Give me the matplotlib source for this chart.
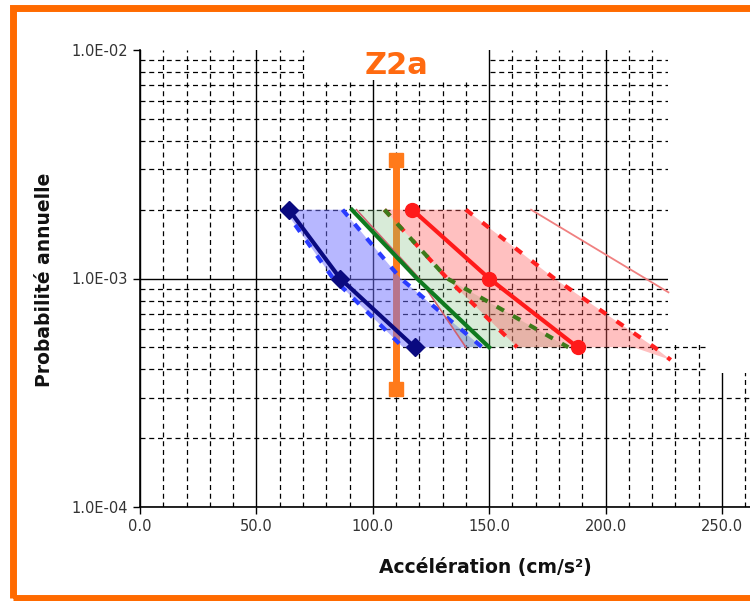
import matplotlib
matplotlib.use('Agg')
import matplotlib.pyplot as plt
from matplotlib.patches import Rectangle, Polygon
from matplotlib.ticker import FixedLocator, MultipleLocator, LogLocator, NullFormatter

# annual probability levels (return periods 500, 1000, 2000 years)
prob = [2e-3, 1e-3, 5e-4]

# acceleration (cm/s2) read for each level
blue_lo = [62, 83, 113]
blue_mid = [64, 86, 118]
blue_hi = [87, 112, 147]

green_thin = [93, 120, 140]
green_mid = [91, 119, 150]
green_hi = [105, 132, 184]

red_lo = [105, 132, 162]
red_mid = [117, 150, 188]
red_hi = [140, 178, 221]
red_tip_x, red_tip_p = 228, 4.4e-4
red_edge_x = 212

thin_x = [168, 227]
thin_p = [2e-3, 8.7e-4]

site_x = [110, 110]
site_p = [3.3e-4, 3.3e-3]

xticks = [0, 50, 100, 150, 200, 250]
xlabels = ['0.0', '50.0', '100.0', '150.0', '200.0', '250.0']
yticks = [1e-4, 1e-3, 1e-2]
ylabels = ['1.0E-04', '1.0E-03', '1.0E-02']

fig = plt.figure(figsize=(7.5, 6.01), dpi=100)
fig.patch.set_facecolor('white')
ax = fig.add_axes([140 / 750, 94 / 601, 651.8 / 750, 457 / 601])
ax.set_xlim(0, 280)
ax.set_yscale('log')
ax.set_ylim(1e-4, 1e-2)

# grid
ax.xaxis.set_major_locator(FixedLocator(xticks))
ax.xaxis.set_minor_locator(MultipleLocator(10))
ax.yaxis.set_major_locator(FixedLocator(yticks))
ax.yaxis.set_minor_locator(LogLocator(subs=range(2, 10)))
ax.yaxis.set_minor_formatter(NullFormatter())
ax.set_xticklabels(xlabels)
ax.set_yticklabels(ylabels)
ax.grid(which='minor', color='black', ls=(0, (4, 3)), lw=0.9, zorder=0)
ax.grid(which='major', color='black', ls='-', lw=1.0, zorder=0)
ax.set_axisbelow(True)
ax.yaxis.get_gridlines()[2].set_visible(False)
for s in ['top', 'right']:
    ax.spines[s].set_visible(False)
ax.spines['left'].set_linewidth(1.2)
ax.spines['bottom'].set_linewidth(1.2)
ax.tick_params(which='minor', length=0)
ax.tick_params(which='major', length=5, width=1, direction='out',
               labelsize=10.5, labelcolor='#333333')

# blank areas where the original grid is cut off
for (x0, x1, y0, y1) in [(71, 149, 7.4e-3, 1e-2),
                         (227, 280, 5.3e-4, 1e-2),
                         (243, 280, 3.85e-4, 5.3e-4)]:
    ax.add_patch(Rectangle((x0, y0), x1 - x0, y1 - y0, facecolor='white',
                           edgecolor='none', zorder=1))

# site value
ax.plot(site_x, site_p, color='#ff7a1a', lw=5, marker='s', ms=10, zorder=2)

# uncertainty bands
blue_poly = list(zip(blue_lo, prob)) + list(zip(blue_hi, prob))[::-1]
ax.add_patch(Polygon(blue_poly, closed=True, facecolor='#7070ff', alpha=0.5,
                     edgecolor='none', zorder=3))
green_poly = list(zip(green_thin, prob)) + list(zip(green_hi, prob))[::-1]
ax.add_patch(Polygon(green_poly, closed=True, facecolor='#80c080', alpha=0.3,
                     edgecolor='none', zorder=3))
red_poly = (list(zip(red_hi, prob)) + [(red_tip_x, red_tip_p), (red_edge_x, prob[2])]
            + list(zip(red_lo, prob))[::-1])
ax.add_patch(Polygon(red_poly, closed=True, facecolor='#ff5a5a', alpha=0.38,
                     edgecolor='none', zorder=3))

# curves
ax.plot(blue_lo, prob, color='#2a3cff', lw=3, ls=(0, (2, 2.5)), zorder=4)
ax.plot(blue_hi, prob, color='#2a3cff', lw=3, ls=(0, (2, 2.5)), zorder=4)
ax.plot(green_thin, prob, color='#d06070', lw=1.2, zorder=4)
ax.plot(red_lo, prob, color='#ff2020', lw=3, ls=(0, (2, 3)), zorder=4)
ax.plot(green_hi, prob, color='#3d7a1a', lw=3, ls=(0, (2, 2.5)), zorder=4)
ax.plot(red_hi + [red_tip_x], prob + [red_tip_p], color='#ff2020', lw=3,
        ls=(0, (2, 3)), zorder=4)
ax.plot(thin_x, thin_p, color='#f08080', lw=1.3, zorder=4)
ax.plot(green_mid, prob, color='#0f7a1f', lw=3, zorder=5)
ax.plot(blue_mid, prob, color='#0a0a80', lw=3, marker='D', ms=9, zorder=5)
ax.plot(red_mid, prob, color='#ff1a1a', lw=3, marker='o', ms=10, zorder=5)

# texts
fig.text(396 / 750, 1 - 66 / 601, 'Z2a', color='#ff6a10', fontsize=22,
         fontweight='bold', ha='center', va='center')
fig.text(485 / 750, 1 - 568 / 601, 'Accélération (cm/s²)', fontsize=13.5,
         fontweight='bold', color='#111111', ha='center', va='center')
fig.text(45 / 750, 1 - 280 / 601, 'Probabilité annuelle', fontsize=13.5,
         fontweight='bold', color='#111111', ha='center', va='center',
         rotation=90)

# orange frame
fig.patches.append(Rectangle((13 / 750, 1 - 598 / 601), 1.5, 590 / 601,
                             transform=fig.transFigure, fill=False,
                             edgecolor='#ff6a00', lw=5))

fig.savefig('out.png', dpi=100)
